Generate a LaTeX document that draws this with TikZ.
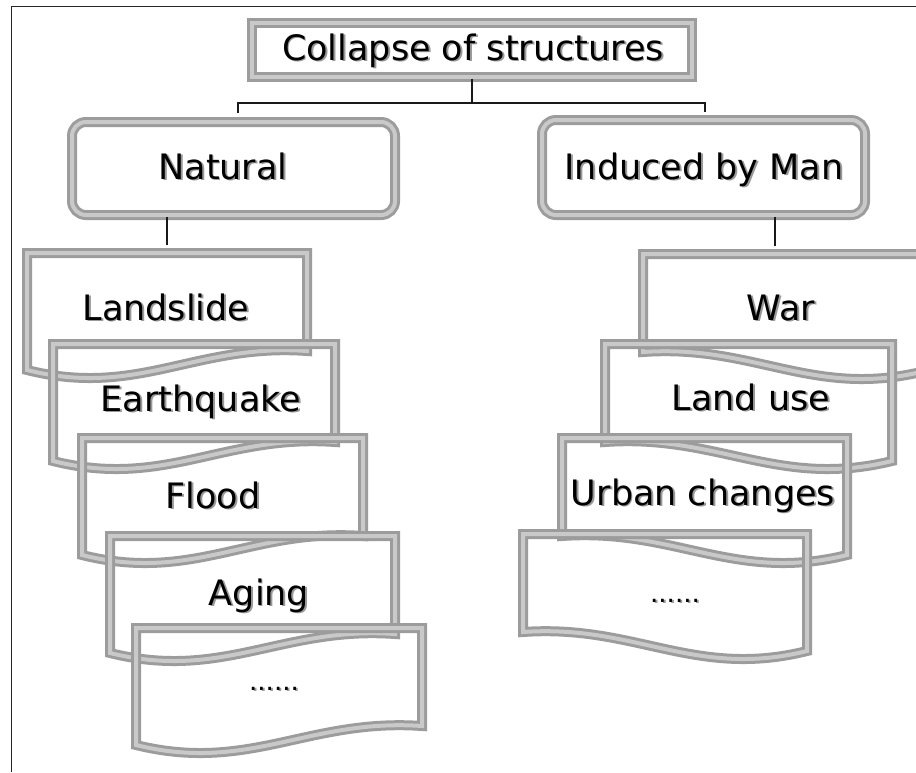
\documentclass[tikz,border=0pt]{standalone}
\usepackage{fontspec}
\setmainfont{DejaVu Sans}
\newcommand\shd[1]{\makebox[0pt][l]{\hspace{1.8pt}\raisebox{-1.8pt}{\textcolor{gray!80}{#1}}}#1}
% wavy box, low side on the left
\newcommand\wavL[4]{%
\begin{scope}[shift={(#2,#3)}]
\draw[bev] (5,5) -- (#4-5,5) -- (#4-5,103) .. controls (0.6*#4,95) and (0.4*#4,150) .. (5,122) -- cycle;
\coordinate (#1) at (0.5*#4,-3);
\end{scope}}
% wavy box, low side on the right
\newcommand\wavR[4]{%
\begin{scope}[shift={(#2,#3)}]
\draw[bev] (5,5) -- (#4-5,5) -- (#4-5,122) .. controls (0.6*#4,150) and (0.4*#4,95) .. (5,103) -- cycle;
\coordinate (#1) at (0.5*#4,-3);
\end{scope}}
\begin{document}
\begin{tikzpicture}[x=1pt,y=-1pt,
  bev/.style={draw=gray!78, line width=3pt, double=gray!42, double distance=4pt},
  lbl/.style={font=\fontsize{35}{40}\selectfont, inner sep=0pt, anchor=base},
  dotlbl/.style={font=\fontsize{26}{30}\selectfont, inner sep=0pt, anchor=base},
  conn/.style={draw=black!90, line width=1.6pt},
  connB/.style={draw=black!90, line width=2.8pt}]
\useasboundingbox (0,0) rectangle (916,772);
\clip (0,0) rectangle (916,772);
\fill[white] (0,0) rectangle (916,772);
% frame
\draw[line width=1.3pt, black!85] (11.5,772) -- (11.5,6.5) -- (916,6.5);

% top box and category boxes
\node[bev, fill=white, minimum width=440pt, minimum height=54pt] (topbox) at (472,50) {};
\node[bev, fill=white, rounded corners=14pt, minimum width=323pt, minimum height=93pt] (nat) at (233.5,168.5) {};
\node[bev, fill=white, rounded corners=14pt, minimum width=323pt, minimum height=95pt] (man) at (703.5,167.5) {};

% left column
\wavL{ls}{22}{248}{290}
\wavL{eq}{48}{339}{292}
\wavL{fl}{77}{433}{291}
\wavL{ag}{105}{531}{295}
\wavL{ld}{131}{623}{296}
% right column
\wavR{war}{638}{249}{292}
\wavR{lu}{600}{339}{297}
\wavR{uc}{557}{433}{295}
\wavR{rd}{518}{529}{294}

% connectors
\coordinate (barL) at (238,103);
\coordinate (barR) at (705,103);
\draw[conn] (topbox.south) -- (topbox.south |- barL);
\draw[conn] ([yshift=-10pt]barL) -- (barL) -- (barR) -- ([yshift=-9pt]barR);
\draw[connB] (nat.south -| ls) -- (ls);
\draw[connB] ([xshift=-9pt]man.south -| war) -- ([xshift=-9pt]war);

% texts
\node[lbl] (t0) at (473,60) {\shd{Collapse of structures}};
\node[lbl] (t1) at (223,179) {\shd{Natural}};
\node[lbl] (t2) at (704,179) {\shd{Induced by Man}};
\node[lbl] (t3) at (166,320) {\shd{Landslide}};
\node[lbl] (t4) at (201,411) {\shd{Earthquake}};
\node[lbl] (t5) at (213,508) {\shd{Flood}};
\node[lbl] (t6) at (259,605) {\shd{Aging}};
\node[dotlbl] (t7) at (274,690) {\shd{......}};
\node[lbl] (t8) at (781,320) {\shd{War}};
\node[lbl] (t9) at (751,410) {\shd{Land use}};
\node[lbl] (t10) at (703,505) {\shd{Urban changes}};
\node[dotlbl] (t11) at (675,602) {\shd{......}};
\end{tikzpicture}
\end{document}
